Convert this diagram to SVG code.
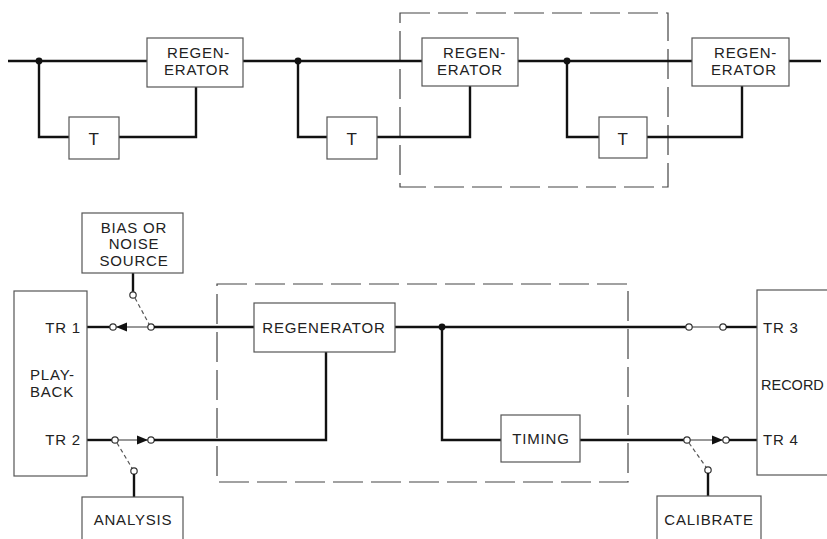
<svg xmlns="http://www.w3.org/2000/svg" width="827" height="539" viewBox="0 0 827 539">
<style>
.box{fill:#fff;stroke:#555;stroke-width:1.2}
.dash{fill:none;stroke:#444;stroke-width:1.2;stroke-dasharray:30 8}
.w{fill:none;stroke:#111;stroke-width:2.4}
.t{fill:none;stroke:#333;stroke-width:1}
.sw{fill:none;stroke:#555;stroke-width:1.2;stroke-dasharray:4 3}
.c{fill:#fff;stroke:#333;stroke-width:1.2}
.d{fill:#111}
text{font-family:"Liberation Sans",Arial,sans-serif;font-size:15px;fill:#222;letter-spacing:0.8px}
.big{font-size:17px}
.rec{font-size:14.5px;letter-spacing:0}
</style>
<rect class="dash" x="400" y="13" width="268" height="174"/>
<rect class="dash" x="217" y="284" width="411" height="198"/>
<g id="connectors">
<path class="w" d="M8,61 H147 M243,61 H422 M518,61 H692 M789,61 H821"/>
<path class="w" d="M39,61 V137 H69 M119,137 H196 V87"/>
<path class="w" d="M298,61 V137 H327 M377,137 H470 V86"/>
<path class="w" d="M567,61 V137 H599 M647,137 H742 V86"/>
<circle class="d" cx="39" cy="61" r="3.4"/>
<circle class="d" cx="298" cy="61" r="3.4"/>
<circle class="d" cx="567" cy="61" r="3.4"/>
<path class="w" d="M87,327 H110"/>
<path class="t" d="M116,327 H148"/>
<path class="d" d="M116,327 L127,322.5 L127,331.5 Z"/>
<circle class="c" cx="113" cy="327" r="3.2"/>
<circle class="c" cx="151" cy="327" r="3.2"/>
<path class="w" d="M154,327 H254"/>
<path class="w" d="M133,273 V292"/>
<circle class="c" cx="133" cy="295" r="3.2"/>
<path class="sw" d="M135,298 L149,324"/>
<path class="w" d="M395,327 H686"/>
<circle class="d" cx="442" cy="327" r="3.4"/>
<circle class="c" cx="689" cy="327" r="3.2"/>
<path class="t" d="M692,327 H720"/>
<circle class="c" cx="723" cy="327" r="3.2"/>
<path class="w" d="M726,327 H757"/>
<path class="w" d="M442,327 V440 H501"/>
<path class="w" d="M580,440 H684"/>
<circle class="c" cx="687" cy="440" r="3.2"/>
<path class="t" d="M690,440 H723"/>
<path class="d" d="M723,440 L712,435.5 L712,444.5 Z"/>
<circle class="c" cx="726" cy="440" r="3.2"/>
<path class="w" d="M729,440 H757"/>
<path class="sw" d="M689,443 L706,467"/>
<circle class="c" cx="708" cy="470" r="3.2"/>
<path class="w" d="M708,473 V496"/>
<path class="w" d="M87,440 H112"/>
<circle class="c" cx="115" cy="440" r="3.2"/>
<path class="t" d="M118,440 H148"/>
<path class="d" d="M148,440 L137,435.5 L137,444.5 Z"/>
<circle class="c" cx="151" cy="440" r="3.2"/>
<path class="w" d="M154,440 H326 V352"/>
<path class="sw" d="M117,443 L132,468"/>
<circle class="c" cx="134" cy="471" r="3.2"/>
<path class="w" d="M134,474 V497"/>
</g>
<g id="regen1"><rect class="box" x="147" y="38" width="96" height="49"/><text x="167" y="58">REGEN-</text><text x="164" y="75">ERATOR</text></g>
<g id="regen2"><rect class="box" x="422" y="38" width="96" height="48"/><text x="443" y="58">REGEN-</text><text x="437" y="75">ERATOR</text></g>
<g id="regen3"><rect class="box" x="692" y="38" width="97" height="48"/><text x="714" y="58">REGEN-</text><text x="711" y="75">ERATOR</text></g>
<g id="t1"><rect class="box" x="69" y="117" width="50" height="42"/><text class="big" x="94" y="145" text-anchor="middle">T</text></g>
<g id="t2"><rect class="box" x="327" y="117" width="50" height="42"/><text class="big" x="352" y="145" text-anchor="middle">T</text></g>
<g id="t3"><rect class="box" x="599" y="117" width="48" height="41"/><text class="big" x="623" y="145" text-anchor="middle">T</text></g>
<g id="bias"><rect class="box" x="82" y="213" width="101" height="60"/><text x="134" y="233" text-anchor="middle">BIAS  OR</text><text x="134" y="249" text-anchor="middle">NOISE</text><text x="134" y="266" text-anchor="middle">SOURCE</text></g>
<g id="playback"><rect class="box" x="14" y="291" width="73" height="185"/><text x="81" y="333" text-anchor="end">TR 1</text><text x="30" y="380">PLAY-</text><text x="30" y="397">BACK</text><text x="81" y="445" text-anchor="end">TR 2</text></g>
<g id="regenerator"><rect class="box" x="254" y="303" width="141" height="49"/><text x="324" y="333" text-anchor="middle">REGENERATOR</text></g>
<g id="timing"><rect class="box" x="501" y="415" width="79" height="47"/><text x="541" y="444" text-anchor="middle">TIMING</text></g>
<g id="record"><rect class="box" x="757" y="290" width="90" height="185"/><text x="763" y="333">TR 3</text><text class="rec" x="761" y="390">RECORD</text><text x="763" y="445">TR 4</text></g>
<g id="analysis"><rect class="box" x="82" y="497" width="101" height="60"/><text x="133" y="525" text-anchor="middle">ANALYSIS</text></g>
<g id="calibrate"><rect class="box" x="657" y="496" width="104" height="60"/><text x="709" y="525" text-anchor="middle">CALIBRATE</text></g>
</svg>
